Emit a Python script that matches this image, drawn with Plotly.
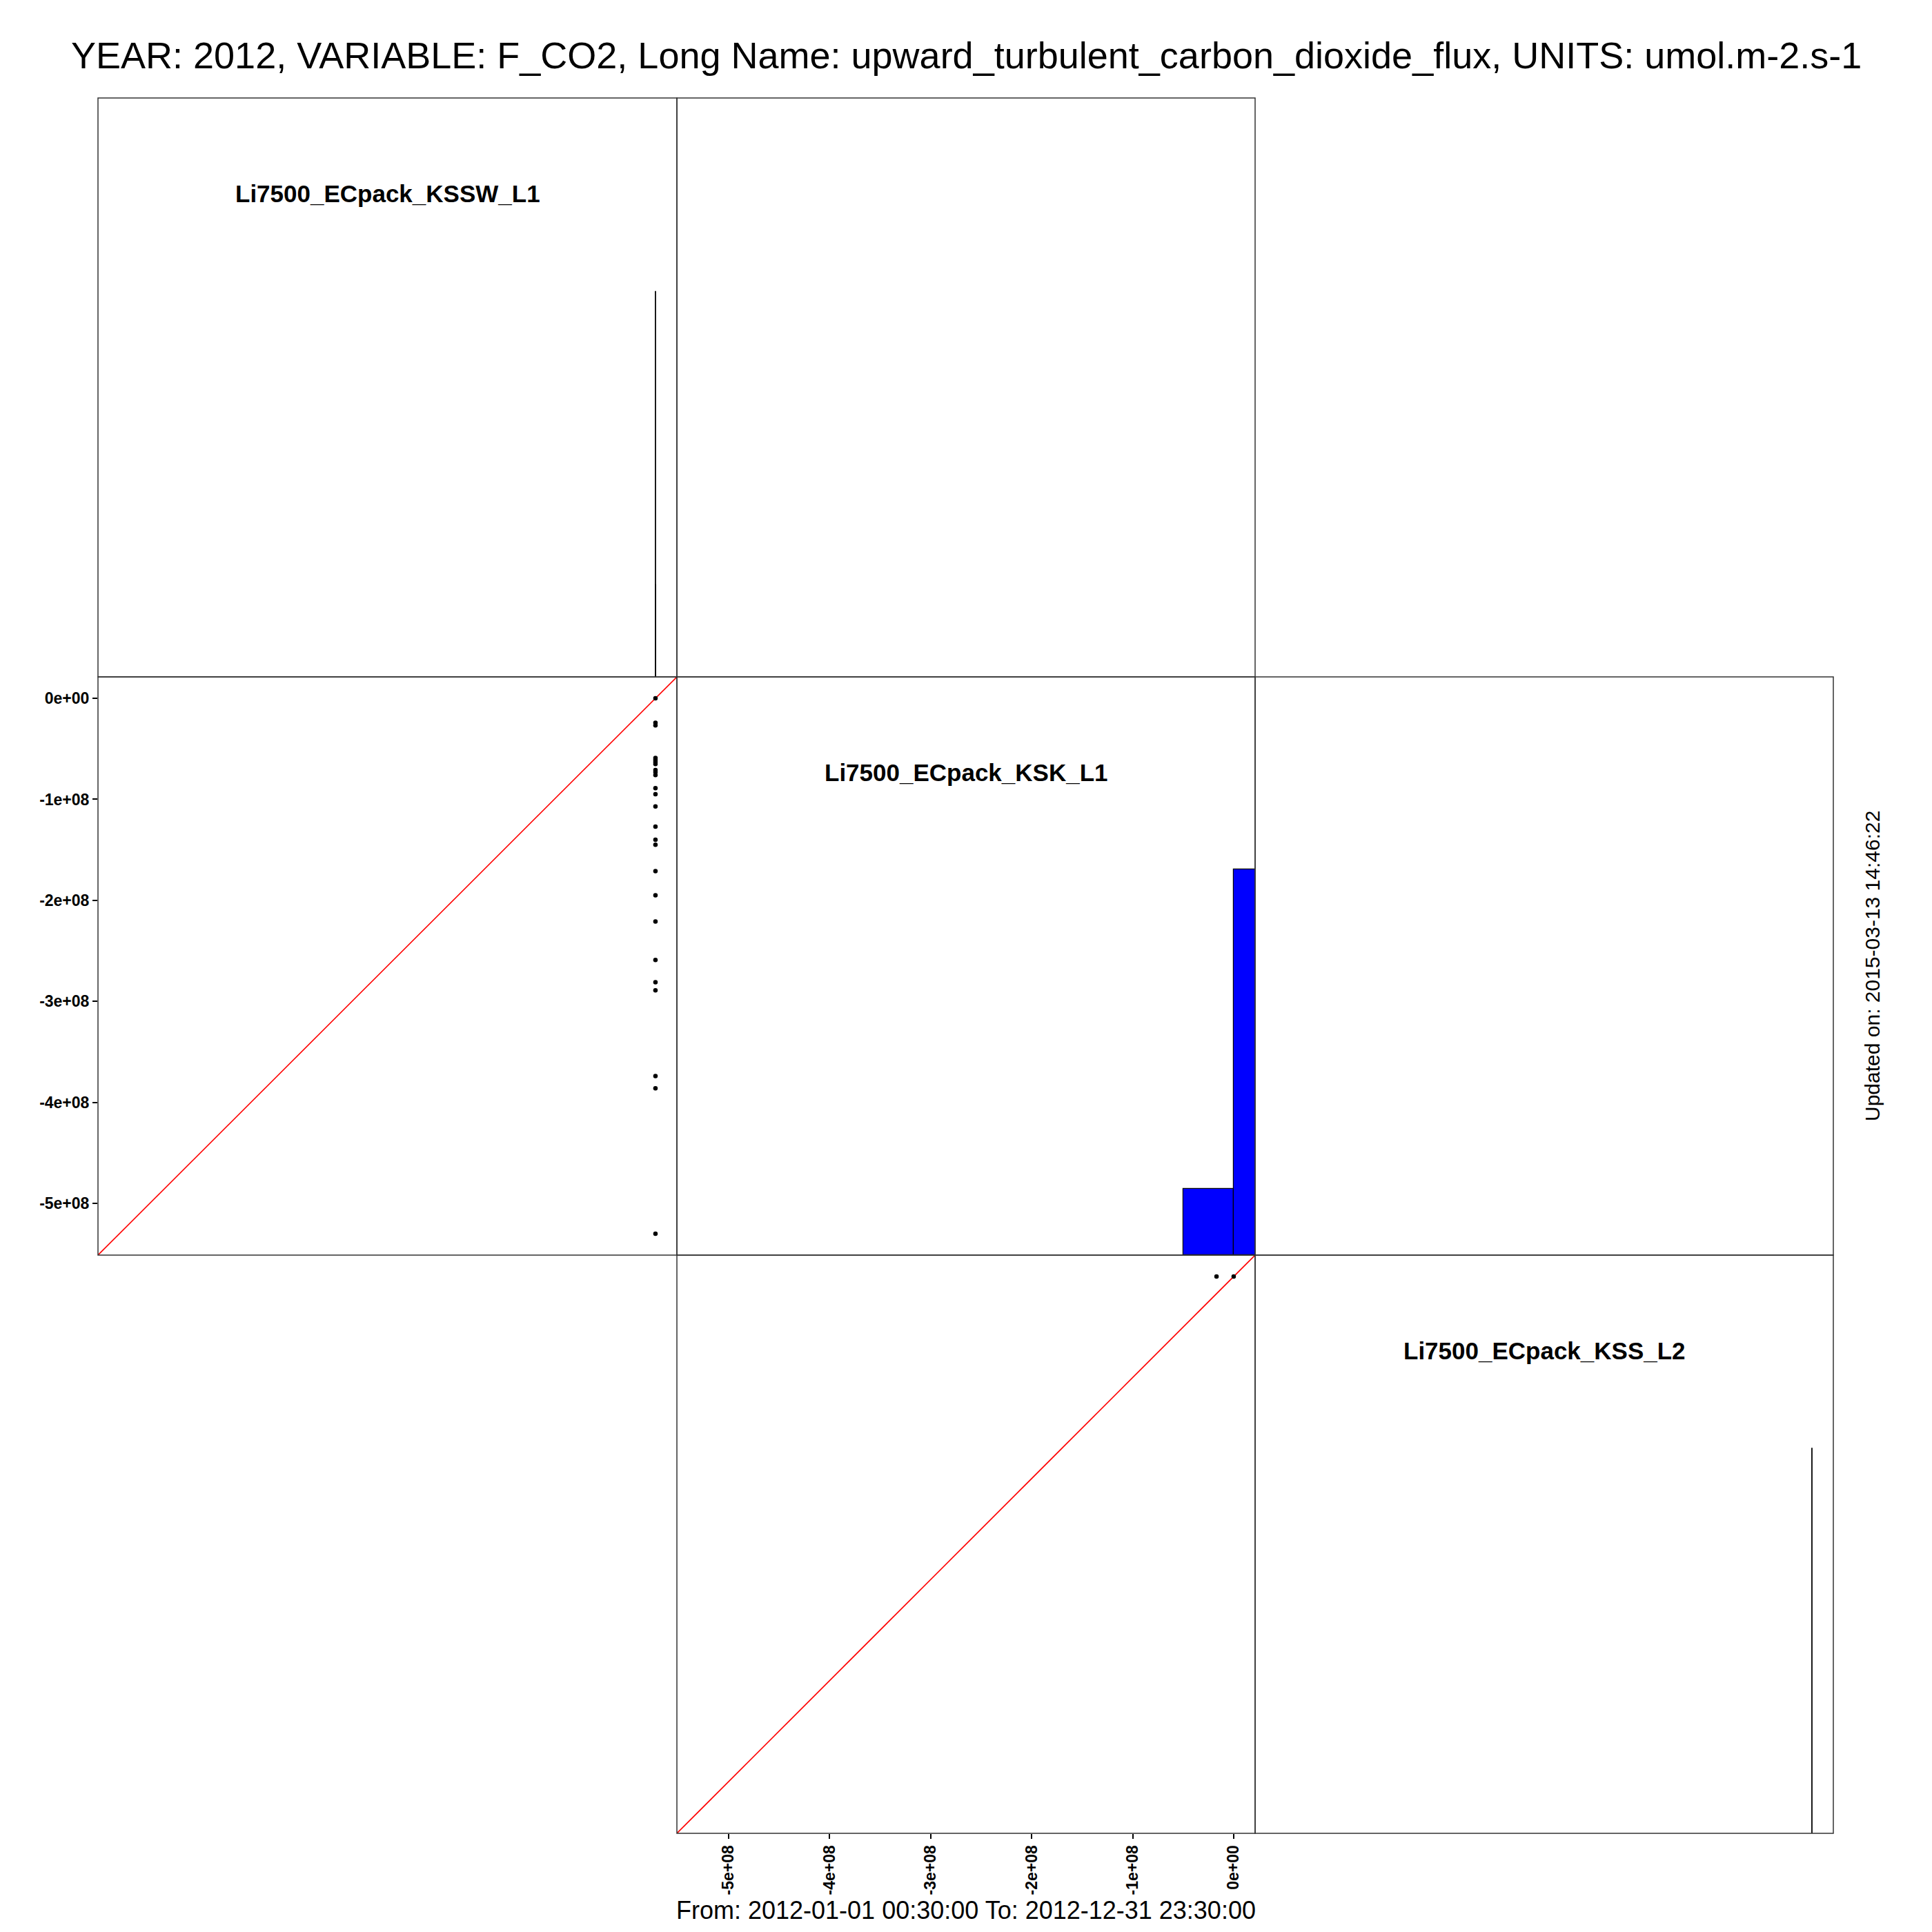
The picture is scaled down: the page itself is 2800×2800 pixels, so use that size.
import plotly.graph_objects as go

# ---------------- data ----------------
VAR_NAMES = ["Li7500_ECpack_KSSW_L1", "Li7500_ECpack_KSK_L1", "Li7500_ECpack_KSS_L2"]
TITLE = "YEAR: 2012, VARIABLE: F_CO2, Long Name: upward_turbulent_carbon_dioxide_flux, UNITS: umol.m-2.s-1"
FOOTER = "From: 2012-01-01 00:30:00 To: 2012-12-31 23:30:00"
UPDATED = "Updated on: 2015-03-13 14:46:22"

# lower panel (row 2, col 1): x = KSSW_L1, y = KSK_L1
pair21_x = [0.0, 0.0, 0.0, 0.0, 0.0, 0.0, 0.0, 0.0, 0.0, 0.0, 0.0, 0.0, 0.0,
            0.0, 0.0, 0.0, 0.0, 0.0, 0.0, 0.0, 0.0, 0.0, 0.0, 0.0, 0.0]
pair21_y = [0.0, -0.243e8, -0.267e8, -0.59e8, -0.61e8, -0.63e8, -0.65e8, -0.71e8,
            -0.73e8, -0.76e8, -0.89e8, -0.95e8, -1.07e8, -1.27e8, -1.40e8, -1.45e8,
            -1.71e8, -1.95e8, -2.21e8, -2.59e8, -2.81e8, -2.89e8, -3.74e8, -3.86e8,
            -5.30e8]
# lower panel (row 3, col 2): x = KSK_L1, y = KSS_L2
pair32_x = [-0.17e8, 0.0]
pair32_y = [0.0, 0.0]

# diagonal histograms (counts / max count)
kssw_hist_x = [0.0, 0.0]
kssw_hist_h = [1.0, 0.24]
ksk_hist_left = [-5e7, 0.0]
ksk_hist_right = [0.0, 5e7]
ksk_hist_h = [0.172, 1.0]
kss_hist_x = [0.0]
kss_hist_h = [1.0]

tick_vals = [0, -1e8, -2e8, -3e8, -4e8, -5e8]
tick_text = ["0e+00", "-1e+08", "-2e+08", "-3e+08", "-4e+08", "-5e+08"]

# ---------------- layout geometry ----------------
W = H = 2800
OFF = 8  # page body margin in the browser
EDGES = [142, 981, 1819, 2657]
FONT = "Liberation Sans, Arial, Helvetica, sans-serif"

all_vals = pair21_x + pair21_y + pair32_x + pair32_y
lo, hi = min(all_vals), max(all_vals)
pad = 0.04 * (hi - lo)
RNG = [lo - pad, hi + pad]
HRNG = [0, 1.5]


def px_x(p):
    return (p - OFF) / W


def px_y(p):
    return 1 - (p - OFF) / H


def xdom(c):
    return [px_x(EDGES[c]), px_x(EDGES[c + 1])]


def ydom(r):
    return [px_y(EDGES[r + 1]), px_y(EDGES[r])]


def base_axis(dom, rng, anchor):
    return dict(domain=dom, range=rng, anchor=anchor, showgrid=False, zeroline=False,
                showline=False, showticklabels=False, ticks="", fixedrange=True)


fig = go.Figure()

# axis ids: 1 -> (0,0) hist, 2 -> (1,0) scatter, 3 -> (1,1) hist, 4 -> (2,1) scatter, 5 -> (2,2) hist
cells = {1: (0, 0, "hist"), 2: (1, 0, "sc"), 3: (1, 1, "hist"), 4: (2, 1, "sc"), 5: (2, 2, "hist")}
layout_axes = {}
for k, (r, c, kind) in cells.items():
    xa = "xaxis" if k == 1 else f"xaxis{k}"
    ya = "yaxis" if k == 1 else f"yaxis{k}"
    layout_axes[xa] = base_axis(xdom(c), RNG, "y" if k == 1 else f"y{k}")
    layout_axes[ya] = base_axis(ydom(r), HRNG if kind == "hist" else RNG, "x" if k == 1 else f"x{k}")

tickfont = dict(family=FONT, size=23, color="black", weight="bold")
layout_axes["yaxis2"].update(showticklabels=True, ticks="outside", ticklen=7, tickwidth=1.5,
                             tickcolor="black", tickvals=tick_vals, ticktext=tick_text,
                             tickfont=tickfont, side="left")
layout_axes["xaxis4"].update(showticklabels=True, ticks="outside", ticklen=7, tickwidth=1.5,
                             tickcolor="black", tickvals=tick_vals, ticktext=tick_text,
                             tickfont=tickfont, side="bottom", tickangle=-90)


def spike_trace(xs, hs, k):
    px, py = [], []
    for x, h in zip(xs, hs):
        px += [x, x, None]
        py += [0, h, None]
    return go.Scatter(x=px, y=py, mode="lines", line=dict(color="black", width=1.8),
                      xaxis="x" if k == 1 else f"x{k}", yaxis="y" if k == 1 else f"y{k}",
                      hoverinfo="skip", showlegend=False, cliponaxis=True)


# diagonal (1,1)
fig.add_trace(spike_trace(kssw_hist_x, kssw_hist_h, 1))
# diagonal (2,2)
fig.add_trace(go.Bar(
    x=[(a + b) / 2 for a, b in zip(ksk_hist_left, ksk_hist_right)],
    width=[b - a for a, b in zip(ksk_hist_left, ksk_hist_right)],
    y=ksk_hist_h, marker=dict(color="#0000FF", line=dict(color="black", width=1.2)),
    xaxis="x3", yaxis="y3", showlegend=False, hoverinfo="skip"))
# diagonal (3,3)
fig.add_trace(spike_trace(kss_hist_x, kss_hist_h, 5))

# scatter panels with 1:1 line
for k, xs, ys in [(2, pair21_x, pair21_y), (4, pair32_x, pair32_y)]:
    fig.add_trace(go.Scatter(x=RNG, y=RNG, mode="lines", line=dict(color="red", width=1.6),
                             xaxis=f"x{k}", yaxis=f"y{k}", showlegend=False, hoverinfo="skip"))
    fig.add_trace(go.Scatter(x=xs, y=ys, mode="markers",
                             marker=dict(color="black", size=6.5, line=dict(width=0)),
                             xaxis=f"x{k}", yaxis=f"y{k}", showlegend=False, cliponaxis=False))

# panel borders
bordered = [(0, 0), (0, 1), (1, 0), (1, 1), (1, 2), (2, 1), (2, 2)]
shapes = []
for r, c in bordered:
    shapes.append(dict(type="rect", xref="paper", yref="paper",
                       x0=xdom(c)[0], x1=xdom(c)[1], y0=ydom(r)[0], y1=ydom(r)[1],
                       line=dict(color="#333333", width=1.5), fillcolor="rgba(0,0,0,0)",
                       layer="above"))

annotations = [
    dict(text=TITLE, x=px_x(1400), y=px_y(80), xref="paper", yref="paper", showarrow=False,
         xanchor="center", yanchor="middle", font=dict(family=FONT, size=54, color="black")),
    dict(text=FOOTER, x=px_x(1400), y=px_y(2768), xref="paper", yref="paper", showarrow=False,
         xanchor="center", yanchor="middle", font=dict(family=FONT, size=36, color="black")),
    dict(text=UPDATED, x=px_x(2713), y=px_y(1400), xref="paper", yref="paper", showarrow=False,
         textangle=-90, xanchor="center", yanchor="middle",
         font=dict(family=FONT, size=30, color="black")),
]
for i, name in enumerate(VAR_NAMES):
    cx = (EDGES[i] + EDGES[i + 1]) / 2
    cy = EDGES[i] + 138
    annotations.append(dict(text=f"<b>{name}</b>", x=px_x(cx), y=px_y(cy), xref="paper",
                            yref="paper", showarrow=False, xanchor="center", yanchor="middle",
                            font=dict(family=FONT, size=35, color="black")))

fig.update_layout(width=W, height=H, margin=dict(l=0, r=0, t=0, b=0, pad=0),
                  paper_bgcolor="white", plot_bgcolor="white", shapes=shapes,
                  annotations=annotations, showlegend=False, bargap=0, **layout_axes)

fig.write_html("out.html")
